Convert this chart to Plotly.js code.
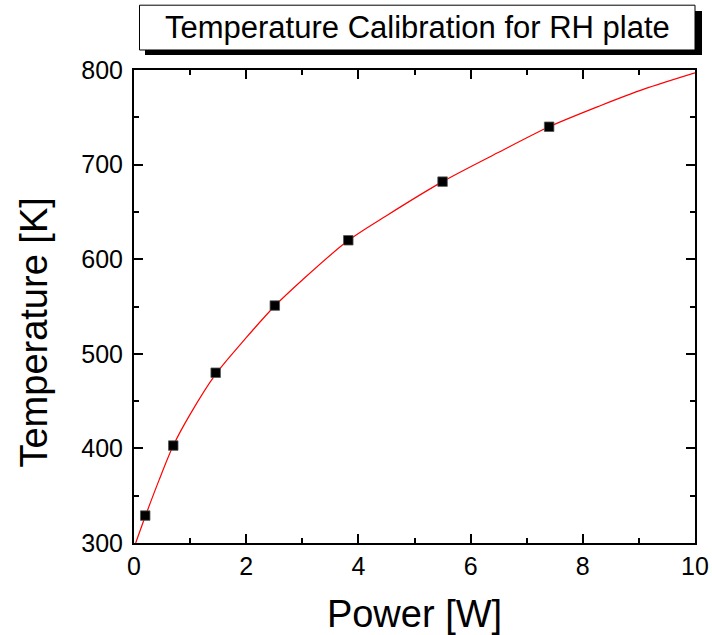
<!DOCTYPE html>
<html>
<head>
<meta charset="utf-8">
<script src="https://cdn.plot.ly/plotly-3.0.1.min.js"></script>
<style>html,body{margin:0;padding:0;background:#fff;}#chart{width:712px;height:635px;}</style>
</head>
<body>
<div id="chart"></div>
<script>
// Measured calibration points
const powerW = [0.2, 0.7, 1.456, 2.51, 3.82, 5.5, 7.4];
const tempK = [329, 403, 480, 551, 620, 682, 740];

// Fit curve
const fitPower = [0.03, 0.2, 0.45, 0.7, 1.0, 1.45, 2.0, 2.5, 3.0, 3.8, 4.5, 5.5, 6.5, 7.4, 8.3, 9.1, 10];
const fitTemp = [300, 328, 367, 403, 436, 478, 517, 550, 578, 619, 646, 682, 713, 740, 762, 780, 797];

const xTicks = [0, 2, 4, 6, 8, 10];
const yTicks = [300, 400, 500, 600, 700, 800];

const chartTitle = 'Temperature Calibration for RH plate';
const xTitle = 'Power [W]';
const yTitle = 'Temperature [K]';

const FONT = 'Arial, "Liberation Sans", sans-serif';

const traces = [
  {
    x: fitPower, y: fitTemp, type: 'scatter', mode: 'lines',
    line: {color: '#ff0000', width: 1.2, shape: 'spline', smoothing: 0.8},
    hoverinfo: 'skip', showlegend: false
  },
  {
    x: powerW, y: tempK, type: 'scatter', mode: 'markers',
    marker: {symbol: 'square', size: 9.5, color: '#000000', line: {color: '#555555', width: 0.8}},
    showlegend: false
  }
];

const axisCommon = {
  showline: true, linecolor: '#000', linewidth: 2, mirror: 'allticks',
  ticks: 'inside', ticklen: 9, tickwidth: 2, tickcolor: '#000',
  showgrid: false, zeroline: false,
  tickfont: {family: FONT, size: 25, color: '#000'}
};

const layout = {
  width: 712, height: 635,
  paper_bgcolor: '#fff', plot_bgcolor: '#fff',
  margin: {l: 134, r: 17, t: 70, b: 92},
  xaxis: Object.assign({}, axisCommon, {
    range: [0, 10], tickvals: xTicks, ticktext: xTicks.map(String),
    minor: {ticks: 'inside', ticklen: 5, tickwidth: 2, tickcolor: '#000', dtick: 1, tick0: 0},
    ticklabelstandoff: 0,
    title: {text: xTitle, font: {family: FONT, size: 38, color: '#000'}, standoff: 22}
  }),
  yaxis: Object.assign({}, axisCommon, {
    range: [300, 800], tickvals: yTicks, ticktext: yTicks.map(String),
    minor: {ticks: 'inside', ticklen: 5, tickwidth: 2, tickcolor: '#000', dtick: 50, tick0: 300},
    ticklabelstandoff: 4
  }),
  shapes: [
    {type: 'rect', xref: 'paper', yref: 'paper', x0: 0.0196, x1: 1.0125, y0: 1.0317, y1: 1.1247,
     fillcolor: '#000', line: {width: 0}, layer: 'above'},
    {type: 'rect', xref: 'paper', yref: 'paper', x0: 0.0098, x1: 1.0, y0: 1.0423, y1: 1.137,
     fillcolor: '#fff', line: {color: '#000', width: 1}, layer: 'above'}
  ],
  annotations: [
    {text: chartTitle, xref: 'paper', yref: 'paper', x: 0.505, y: 1.089, xanchor: 'center', yanchor: 'middle',
     showarrow: false, font: {family: FONT, size: 31, color: '#000'}},
    {text: yTitle, xref: 'paper', yref: 'paper', x: -0.18, y: 0.445, xanchor: 'center', yanchor: 'middle',
     textangle: -90, showarrow: false, font: {family: FONT, size: 38, color: '#000'}}
  ]
};

Plotly.newPlot('chart', traces, layout, {displayModeBar: false, staticPlot: true});
</script>
</body>
</html>
